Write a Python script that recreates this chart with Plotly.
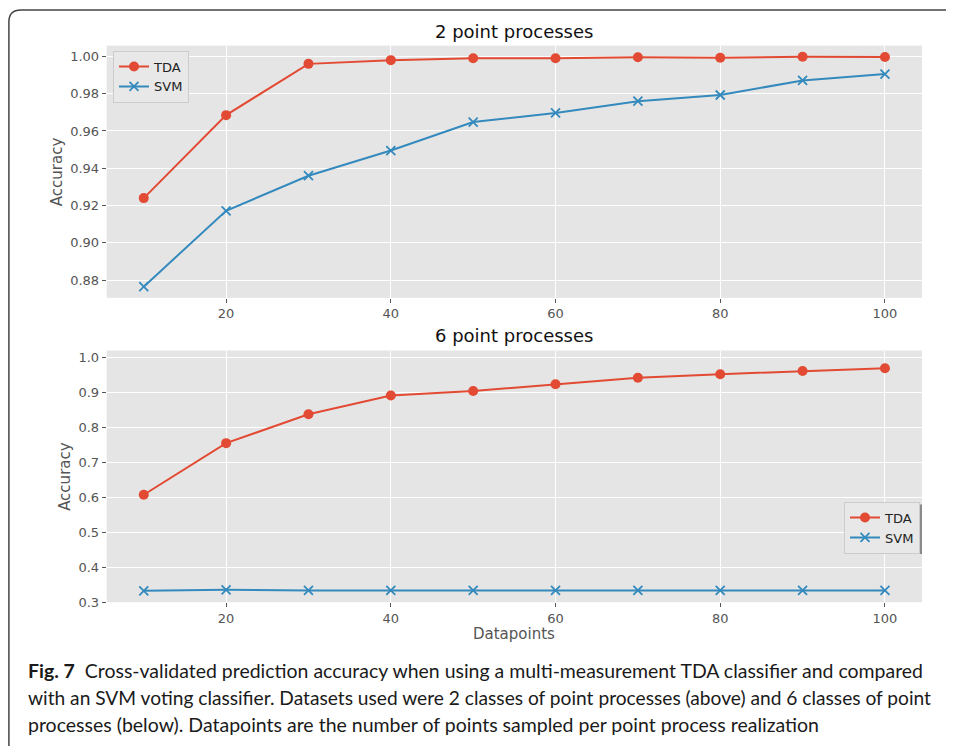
import plotly.graph_objects as go

# page is 954x754; the browser's default 8px body margin surrounds the figure
OX, OY = 8, 8
W, H = 938, 738

datapoints = [10, 20, 30, 40, 50, 60, 70, 80, 90, 100]
tda_2 = [0.924, 0.9685, 0.9960, 0.9980, 0.9990, 0.9990, 0.9995, 0.9993, 0.9998, 0.9997]
svm_2 = [0.8765, 0.9172, 0.9360, 0.9495, 0.9648, 0.9697, 0.9760, 0.9793, 0.9871, 0.9905]
tda_6 = [0.6065, 0.754, 0.8365, 0.890, 0.903, 0.922, 0.941, 0.951, 0.960, 0.968]
svm_6 = [0.332, 0.335, 0.333, 0.333, 0.333, 0.333, 0.333, 0.333, 0.333, 0.333]

titles = ["2 point processes", "6 point processes"]
series_names = ["TDA", "SVM"]
caption_lines = [
    "<b>Fig. 7</b>  Cross-validated prediction accuracy when using a multi-measurement TDA classifier and compared",
    "with an SVM voting classifier. Datasets used were 2 classes of point processes (above) and 6 classes of point",
    "processes (below). Datapoints are the number of points sampled per point process realization",
]
caption_widths = [895, 903, 791]

RED = "#E24A33"
BLUE = "#348ABD"

def px_x(p):
    return (p - OX) / W

def px_y(p):
    return 1 - (p - OY) / H

L, R = 106.7, 922
top_dom = [px_y(300), px_y(45)]
bot_dom = [px_y(607.7), px_y(353.3)]

fig = go.Figure()

def add_pair(tda, svm, xa, ya, legend):
    fig.add_trace(go.Scatter(
        x=datapoints, y=tda, name=series_names[0], mode="lines+markers",
        line=dict(color=RED, width=2), marker=dict(symbol="circle", size=10, color=RED),
        xaxis=xa, yaxis=ya, legend=legend, showlegend=True))
    fig.add_trace(go.Scatter(
        x=datapoints, y=svm, name=series_names[1], mode="lines+markers",
        line=dict(color=BLUE, width=2),
        marker=dict(symbol="x-thin", size=9, color=BLUE, line=dict(color=BLUE, width=1.8)),
        xaxis=xa, yaxis=ya, legend=legend, showlegend=True))

add_pair(tda_2, svm_2, "x", "y", "legend")
add_pair(tda_6, svm_6, "x2", "y2", "legend2")

tickfont = dict(family="DejaVu Sans", size=13, color="#555555")
common_x = dict(range=[5.5, 104.5], tickmode="array", tickvals=[20, 40, 60, 80, 100],
                showgrid=True, gridcolor="white", gridwidth=1, zeroline=False,
                ticks="outside", ticklen=4, tickcolor="#555555", tickfont=tickfont,
                showline=False)
common_y = dict(showgrid=True, gridcolor="white", gridwidth=1, zeroline=False,
                ticks="outside", ticklen=4, tickcolor="#555555", tickfont=tickfont,
                showline=False)

legend_style = dict(bgcolor="#E8E8E8", bordercolor="#CCCCCC", borderwidth=1,
                    font=dict(family="DejaVu Sans", size=13, color="#222222"),
                    tracegroupgap=0, itemwidth=30)

fig.update_layout(
    width=W, height=H,
    margin=dict(l=0, r=0, t=0, b=0),
    paper_bgcolor="white",
    plot_bgcolor="#E5E5E5",
    xaxis=dict(domain=[px_x(L), px_x(R)], anchor="y", **common_x),
    yaxis=dict(domain=top_dom, anchor="x", range=[0.8705, 1.0058],
               tickmode="array", tickvals=[0.88, 0.90, 0.92, 0.94, 0.96, 0.98, 1.00],
               tickformat=".2f", **common_y),
    xaxis2=dict(domain=[px_x(L), px_x(R)], anchor="y2", **common_x),
    yaxis2=dict(domain=bot_dom, anchor="x2", range=[0.2995, 1.0185],
                tickmode="array", tickvals=[0.3, 0.4, 0.5, 0.6, 0.7, 0.8, 0.9, 1.0],
                tickformat=".1f", **common_y),
    legend=dict(x=px_x(113), y=px_y(50), xanchor="left", yanchor="top", **legend_style),
    legend2=dict(x=px_x(920), y=px_y(506), xanchor="right", yanchor="top", **legend_style),
    showlegend=True,
)

# legend shadow (bottom legend)
fig.add_shape(type="rect", xref="paper", yref="paper",
              x0=px_x(849), x1=px_x(922), y0=px_y(559), y1=px_y(509),
              fillcolor="#8a8a8a", line=dict(width=0), layer="above")

# titles
for txt, yp in zip(titles, [31, 338]):
    fig.add_annotation(text=txt, x=px_x((L + R) / 2), y=px_y(yp), xref="paper", yref="paper",
                       showarrow=False, xanchor="center", yanchor="middle",
                       font=dict(family="DejaVu Sans", size=18, color="#111111"))

# axis titles
for xp, yp in [(57, 173), (65, 481)]:
    fig.add_annotation(text="Accuracy", x=px_x(xp), y=px_y(yp), xref="paper", yref="paper",
                       showarrow=False, textangle=-90, xanchor="center", yanchor="middle",
                       font=dict(family="DejaVu Sans", size=15, color="#555555"))
fig.add_annotation(text="Datapoints", x=px_x((L + R) / 2), y=px_y(640), xref="paper", yref="paper",
                   showarrow=False, xanchor="center", yanchor="middle",
                   font=dict(family="DejaVu Sans", size=15, color="#555555"))

# caption
for i, line in enumerate(caption_lines):
    fig.add_annotation(text=line, x=px_x(26), y=px_y(677 + 27 * i), xref="paper", yref="paper",
                       showarrow=False, xanchor="left", yanchor="middle", align="left",
                       font=dict(family="Lato, Roboto, sans-serif",
                                 size=19, color="#1a1a1a"))

# rounded outer border
x0, y0, x1, y1, r = 8.9, 8.9, 968, 768, 12
path = (f"M {px_x(x0 + r)},{px_y(y0)} L {px_x(x1 - r)},{px_y(y0)} "
        f"Q {px_x(x1)},{px_y(y0)} {px_x(x1)},{px_y(y0 + r)} "
        f"L {px_x(x1)},{px_y(y1 - r)} Q {px_x(x1)},{px_y(y1)} {px_x(x1 - r)},{px_y(y1)} "
        f"L {px_x(x0 + r)},{px_y(y1)} Q {px_x(x0)},{px_y(y1)} {px_x(x0)},{px_y(y1 - r)} "
        f"L {px_x(x0)},{px_y(y0 + r)} Q {px_x(x0)},{px_y(y0)} {px_x(x0 + r)},{px_y(y0)} Z")
fig.add_shape(type="path", path=path, xref="paper", yref="paper",
              line=dict(color="#444444", width=1.5), fillcolor="rgba(0,0,0,0)", layer="above")

starts = [s.replace("<b>", "").replace("</b>", "")[:12] for s in caption_lines]
js = """
var gd = document.getElementById('{plot_id}');
var starts = %s;
var widths = %s;
gd.querySelectorAll('text.annotation-text').forEach(function (t) {
  var s = t.textContent;
  for (var i = 0; i < starts.length; i++) {
    if (s.indexOf(starts[i]) === 0) {
      t.setAttribute('textLength', widths[i]);
      t.setAttribute('lengthAdjust', 'spacingAndGlyphs');
    }
  }
});
""" % (str(starts).replace("'", '"'), str(caption_widths))

fig.write_html("out.html", post_script=js, config={"displayModeBar": False})
